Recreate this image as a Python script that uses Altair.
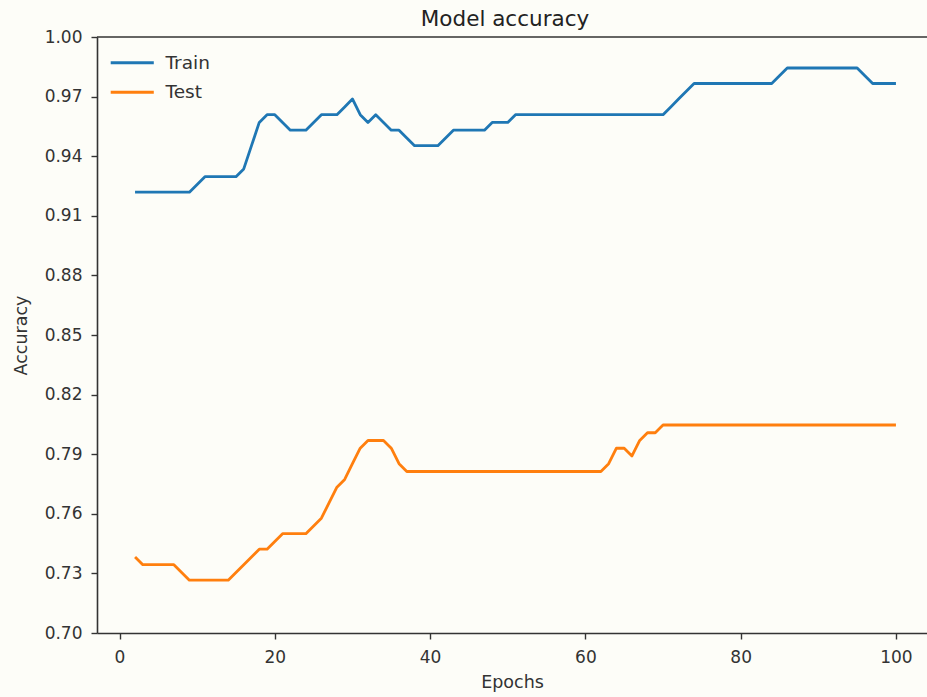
import altair as alt
import pandas as pd

# Accuracy per epoch for the training and test sets
epochs = list(range(2, 101))

train_acc = [
    0.9219, 0.9219, 0.9219, 0.9219, 0.9219, 0.9219, 0.9219, 0.9219,          # 2-9
    0.9258, 0.9297, 0.9297, 0.9297, 0.9297, 0.9297, 0.9336, 0.9453,          # 10-17
    0.9570, 0.9609, 0.9609, 0.9570, 0.9531, 0.9531, 0.9531, 0.9570,          # 18-25
    0.9609, 0.9609, 0.9609, 0.9648, 0.9688, 0.9609, 0.9570, 0.9609,          # 26-33
    0.9570, 0.9531, 0.9531, 0.9492, 0.9453, 0.9453, 0.9453, 0.9453,          # 34-41
    0.9492, 0.9531, 0.9531, 0.9531, 0.9531, 0.9531, 0.9570, 0.9570,          # 42-49
    0.9570, 0.9609, 0.9609, 0.9609, 0.9609, 0.9609, 0.9609, 0.9609,          # 50-57
    0.9609, 0.9609, 0.9609, 0.9609, 0.9609, 0.9609, 0.9609, 0.9609,          # 58-65
    0.9609, 0.9609, 0.9609, 0.9609, 0.9609, 0.9648, 0.9688, 0.9727,          # 66-73
    0.9766, 0.9766, 0.9766, 0.9766, 0.9766, 0.9766, 0.9766, 0.9766,          # 74-81
    0.9766, 0.9766, 0.9766, 0.9805, 0.9844, 0.9844, 0.9844, 0.9844,          # 82-89
    0.9844, 0.9844, 0.9844, 0.9844, 0.9844, 0.9844, 0.9805, 0.9766,          # 90-97
    0.9766, 0.9766, 0.9766,                                                  # 98-100
]

test_acc = [
    0.7383, 0.7344, 0.7344, 0.7344, 0.7344, 0.7344, 0.7305, 0.7266,          # 2-9
    0.7266, 0.7266, 0.7266, 0.7266, 0.7266, 0.7305, 0.7344, 0.7383,          # 10-17
    0.7422, 0.7422, 0.7461, 0.7500, 0.7500, 0.7500, 0.7500, 0.7539,          # 18-25
    0.7578, 0.7656, 0.7734, 0.7773, 0.7852, 0.7930, 0.7969, 0.7969,          # 26-33
    0.7969, 0.7930, 0.7852, 0.7813, 0.7813, 0.7813, 0.7813, 0.7813,          # 34-41
    0.7813, 0.7813, 0.7813, 0.7813, 0.7813, 0.7813, 0.7813, 0.7813,          # 42-49
    0.7813, 0.7813, 0.7813, 0.7813, 0.7813, 0.7813, 0.7813, 0.7813,          # 50-57
    0.7813, 0.7813, 0.7813, 0.7813, 0.7813, 0.7852, 0.7930, 0.7930,          # 58-65
    0.7891, 0.7969, 0.8008, 0.8008, 0.8047, 0.8047, 0.8047, 0.8047,          # 66-73
    0.8047, 0.8047, 0.8047, 0.8047, 0.8047, 0.8047, 0.8047, 0.8047,          # 74-81
    0.8047, 0.8047, 0.8047, 0.8047, 0.8047, 0.8047, 0.8047, 0.8047,          # 82-89
    0.8047, 0.8047, 0.8047, 0.8047, 0.8047, 0.8047, 0.8047, 0.8047,          # 90-97
    0.8047, 0.8047, 0.8047,                                                  # 98-100
]

series_names = ["Train", "Test"]
series_colors = ["#1f77b4", "#ff7f0e"]
x_ticks = [0, 20, 40, 60, 80, 100]
y_ticks = [0.70, 0.73, 0.76, 0.79, 0.82, 0.85, 0.88, 0.91, 0.94, 0.97, 1.00]

df = pd.DataFrame({
    "epoch": epochs + epochs,
    "accuracy": train_acc + test_acc,
    "series": [series_names[0]] * len(epochs) + [series_names[1]] * len(epochs),
})

FONT = "DejaVu Sans"
INK = "#333333"

x_scale = alt.Scale(domain=[-2.9, 104.0], nice=False, zero=False)
y_scale = alt.Scale(domain=[0.70, 1.00], nice=False, zero=False)

lines = alt.Chart(df).mark_line(strokeWidth=2.8, strokeJoin="round", clip=True).encode(
    x=alt.X("epoch:Q", scale=x_scale,
            axis=alt.Axis(values=x_ticks, title="Epochs", labelPadding=10, titlePadding=8)),
    y=alt.Y("accuracy:Q", scale=y_scale,
            axis=alt.Axis(values=y_ticks, format=".2f", title="Accuracy",
                          labelPadding=9, titlePadding=14)),
    color=alt.Color(
        "series:N",
        scale=alt.Scale(domain=series_names, range=series_colors),
        sort=series_names,
        legend=alt.Legend(
            title=None, orient="none", legendX=26, legendY=16.5, padding=0,
            # a long horizontal stroke drawn from a compact symbol size
            symbolType="M-4,0H4", symbolSize=116, symbolStrokeWidth=3,
            labelFont=FONT, labelFontSize=18.5, labelColor=INK,
            labelOffset=24, rowPadding=10.5,
        ),
    ),
)

# top frame line of the axes box
top_frame = alt.Chart(pd.DataFrame({"accuracy": [1.00]})).mark_rule(
    color=INK, strokeWidth=1.6
).encode(y=alt.Y("accuracy:Q", scale=y_scale))

chart = alt.layer(lines, top_frame).properties(
    width=830,
    height=596,
    autosize=alt.AutoSizeParams(type="none"),
    padding={"left": 97, "top": 37, "right": 0, "bottom": 64},
    background="#fdfdf8",
    title=alt.TitleParams(
        "Model accuracy", font=FONT, fontSize=21.5, fontWeight="normal",
        color="#222222", anchor="middle", frame="group", offset=-2, dx=-7,
    ),
).configure_view(stroke=None).configure_axis(
    grid=False,
    domainColor=INK, domainWidth=1.6,
    tickColor=INK, tickWidth=1.4, tickSize=6,
    labelFont=FONT, labelFontSize=17, labelColor=INK,
    titleFont=FONT, titleFontSize=17.5, titleFontWeight="normal", titleColor=INK,
)

chart.save("out.html", embed_options={"renderer": "svg", "actions": False})
